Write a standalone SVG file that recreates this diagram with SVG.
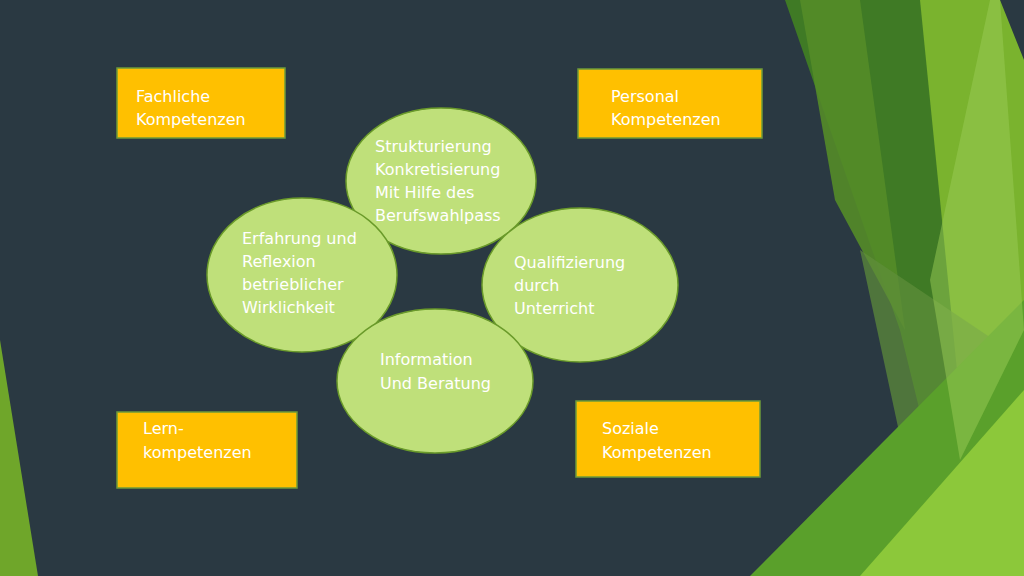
<svg xmlns="http://www.w3.org/2000/svg" width="1024" height="576" viewBox="0 0 1024 576">
<style>
.box{fill:#ffc000;stroke:#6e9a3a;stroke-width:1.5}
.ell{fill:#bfe07a;stroke:#6a9a2a;stroke-width:1.5}
text{font-family:"DejaVu Sans",sans-serif;font-size:16px;fill:#ffffff}
</style>
<rect width="1024" height="576" fill="#2a3942"/>
<g id="bg">
<polygon points="0,340 38,576 0,576" fill="#6fa62a"/>
<polygon points="785,0 1000,0 1024,120 1024,576 960,576 900,330" fill="#3f7a25"/>
<polygon points="800,0 860,0 905,330 835,200" fill="#548c28" opacity="0.9"/>
<polygon points="920,0 1000,0 1024,60 1024,576 990,576 960,400" fill="#7ab32e"/>
<polygon points="860,250 1024,360 1024,576 930,576" fill="#5f8f3a" opacity="0.7"/>
<polygon points="750,576 1024,300 1024,576" fill="#5aa02b"/>
<polygon points="860,576 1024,390 1024,576" fill="#8cc83a"/>
<polygon points="930,280 990,0 1000,0 1024,330 960,460" fill="#9acb55" opacity="0.5"/>
</g>
<g id="fachliche"><rect class="box" x="117" y="68" width="168" height="70"/><text x="136" y="102">Fachliche</text><text x="136" y="125">Kompetenzen</text></g>
<g id="personal"><rect class="box" x="578" y="69" width="184" height="69"/><text x="611" y="102">Personal</text><text x="611" y="125">Kompetenzen</text></g>
<g id="lern"><rect class="box" x="117" y="412" width="180" height="76"/><text x="143" y="434">Lern-</text><text x="143" y="458">kompetenzen</text></g>
<g id="soziale"><rect class="box" x="576" y="401" width="184" height="76"/><text x="602" y="434">Soziale</text><text x="602" y="458">Kompetenzen</text></g>
<g id="top"><ellipse class="ell" cx="441" cy="181" rx="95" ry="73"/><text x="375" y="152">Strukturierung</text><text x="375" y="175">Konkretisierung</text><text x="375" y="198">Mit Hilfe des</text><text x="375" y="221">Berufswahlpass</text></g>
<g id="right"><ellipse class="ell" cx="580" cy="285" rx="98" ry="77"/><text x="514" y="268">Qualifizierung</text><text x="514" y="291">durch</text><text x="514" y="314">Unterricht</text></g>
<g id="left"><ellipse class="ell" cx="302" cy="275" rx="95" ry="77"/><text x="242" y="244">Erfahrung und</text><text x="242" y="267">Reflexion</text><text x="242" y="290">betrieblicher</text><text x="242" y="313">Wirklichkeit</text></g>
<g id="bottom"><ellipse class="ell" cx="435" cy="381" rx="98" ry="72"/><text x="380" y="365">Information</text><text x="380" y="389">Und Beratung</text></g>
<g id="connectors"/>
</svg>
